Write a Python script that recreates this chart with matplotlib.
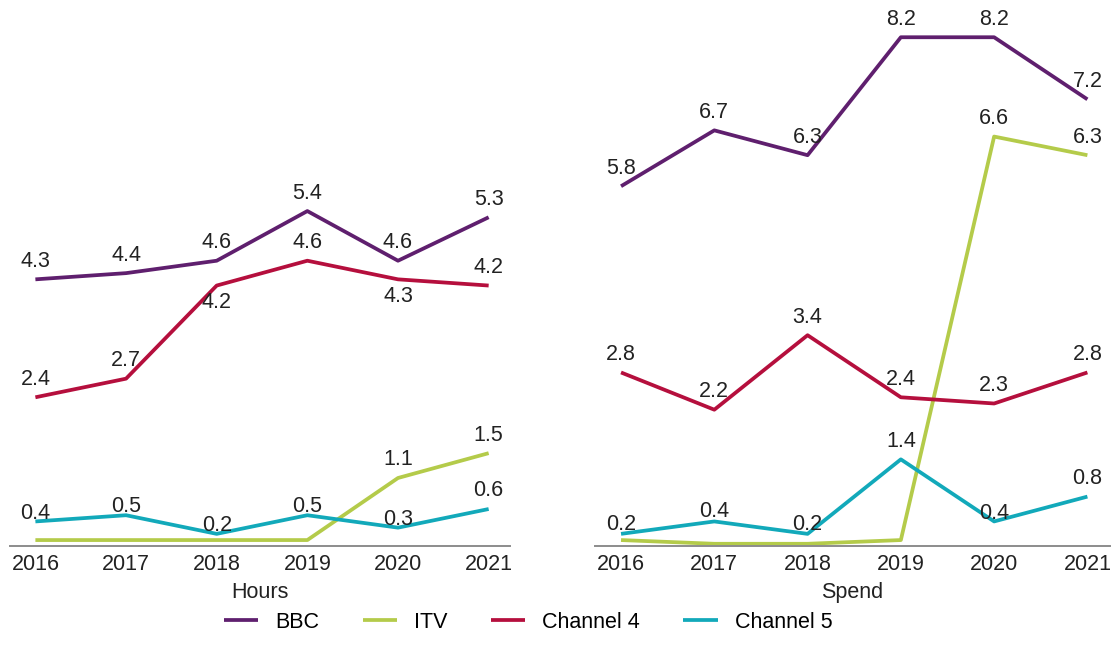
import matplotlib
matplotlib.use("Agg")
import matplotlib.pyplot as plt

plt.rcParams['font.family'] = ['Liberation Sans', 'DejaVu Sans']

years = [2016, 2017, 2018, 2019, 2020, 2021]
series = ["BBC", "ITV", "Channel 4", "Channel 5"]

# Hours
hours_bbc = [4.3, 4.4, 4.6, 5.4, 4.6, 5.3]
hours_itv = [0.1, 0.1, 0.1, 0.1, 1.1, 1.5]
hours_ch4 = [2.4, 2.7, 4.2, 4.6, 4.3, 4.2]
hours_ch5 = [0.4, 0.5, 0.2, 0.5, 0.3, 0.6]

# Spend
spend_bbc = [5.8, 6.7, 6.3, 8.2, 8.2, 7.2]
spend_itv = [0.1, 0.04, 0.04, 0.1, 6.6, 6.3]
spend_ch4 = [2.8, 2.2, 3.4, 2.4, 2.3, 2.8]
spend_ch5 = [0.2, 0.4, 0.2, 1.4, 0.4, 0.8]

colors = ["#5f1f6e", "#b4cb4a", "#b50f3d", "#12a9ba"]

# label offsets (points) per panel/series
off_hours = [[13] * 6, [13] * 6, [13, 13, -12, 13, -12, 13], [6, 6, 6, 6, 6, 13]]
off_spend = [[13] * 6, [13] * 6, [13] * 6, [7, 7, 7, 13, 6, 13]]

fs = 15.5

fig = plt.figure(figsize=(11.12, 6.55), dpi=100)
ax1 = fig.add_axes([0.009, 0.166, 0.450, 0.834])
ax2 = fig.add_axes([0.535, 0.166, 0.463, 0.834])

panels = [
    (ax1, [hours_bbc, hours_itv, hours_ch4, hours_ch5], off_hours, "Hours"),
    (ax2, [spend_bbc, spend_itv, spend_ch4, spend_ch5], off_spend, "Spend"),
]

for ax, data, offs, title in panels:
    for name, vals, col, off in zip(series, data, colors, offs):
        ax.plot(years, vals, color=col, lw=2.7, label=name, solid_capstyle='butt')
        for x, v, o in zip(years, vals, off):
            if v >= 0.2:
                ax.annotate(f"{v:.1f}", (x, v), xytext=(0, o), textcoords='offset points',
                            ha='center', va='center', fontsize=fs, color='#222222')
    ax.set_xlim(2015.72, 2021.24)
    ax.set_ylim(0, 8.8)
    ax.set_xticks(years)
    ax.set_xticklabels([str(y) for y in years], fontsize=fs, color='#222222')
    ax.tick_params(axis='x', length=0, pad=5.5)
    ax.set_yticks([])
    for s in ['left', 'right', 'top']:
        ax.spines[s].set_visible(False)
    ax.spines['bottom'].set_color('#8c8c8c')
    ax.spines['bottom'].set_linewidth(1.4)
    ax.set_xlabel(title, fontsize=fs, color='#222222', labelpad=5)
    ax.patch.set_alpha(0)

handles, labels = ax1.get_legend_handles_labels()
fig.legend(handles, labels, loc='center', bbox_to_anchor=(0.475, 0.05), ncol=4,
           frameon=False, fontsize=fs, handlelength=1.6, columnspacing=2.0,
           handletextpad=0.8)

fig.savefig("out.png", dpi=100)
